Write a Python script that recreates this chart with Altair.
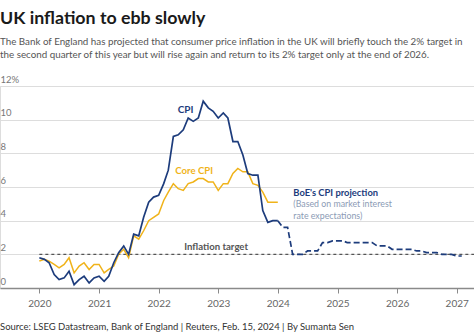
import altair as alt
import pandas as pd

# ---- data (annual % change) ----
cpi = [1.8, 1.7, 1.5, 0.8, 0.5, 0.6, 1.0, 0.2, 0.5, 0.7, 0.3, 0.6,
       0.7, 0.4, 0.7, 1.5, 2.1, 2.5, 2.0, 3.2, 3.1, 4.2, 5.1, 5.4,
       5.5, 6.2, 7.0, 9.0, 9.1, 9.4, 10.1, 9.9, 10.1, 11.1, 10.7, 10.5,
       10.1, 10.4, 10.1, 8.7, 8.7, 7.9, 6.8, 6.7, 6.7, 4.6, 3.9, 4.0,
       4.0]
core = [1.6, 1.7, 1.6, 1.4, 1.2, 1.4, 1.8, 0.9, 1.3, 1.5, 1.1, 1.4,
        1.4, 0.9, 1.1, 1.3, 2.0, 2.3, 1.8, 3.1, 2.9, 3.4, 4.0, 4.2,
        4.4, 5.2, 5.7, 6.2, 5.9, 5.8, 6.2, 6.3, 6.5, 6.5, 6.3, 6.3,
        5.8, 6.2, 6.2, 6.8, 7.1, 6.9, 6.9, 6.2, 6.1, 5.7, 5.1, 5.1,
        5.1]
projection = [4.0, 3.6, 3.6, 2.0, 2.0, 2.0, 2.2, 2.2, 2.2, 2.7, 2.7, 2.8,
              2.8, 2.8, 2.7, 2.7, 2.7, 2.7, 2.7, 2.7, 2.5, 2.5, 2.5, 2.3,
              2.3, 2.3, 2.3, 2.3, 2.2, 2.2, 2.1, 2.1, 2.1, 2.0, 2.0, 2.0,
              1.9, 1.9]
actual_start = "2020-01-01"
projection_start = "2024-01-01"
target_value = 2
target_dates = ["2020-01-01", "2027-04-17"]
years = list(range(2020, 2028))
y_ticks = [0, 2, 4, 6, 8, 10, 12]

title = "UK inflation to ebb slowly"
subtitle = [
    "The Bank of England has projected that consumer price inflation in the UK will briefly touch the 2% target in",
    "the second quarter of this year but will rise again and return to its 2% target only at the end of 2026.",
]
source = "Source: LSEG Datastream, Bank of England | Reuters, Feb. 15, 2024 | By Sumanta Sen"

NAVY = "#1d3c7c"
GOLD = "#f0b31a"
FONT = "Lato"

act_dates = pd.date_range(actual_start, periods=len(cpi), freq="MS")
proj_dates = pd.date_range(projection_start, periods=len(projection), freq="MS")

df_cpi = pd.DataFrame({"date": act_dates, "value": cpi})
df_core = pd.DataFrame({"date": act_dates, "value": core})
df_proj = pd.DataFrame({"date": proj_dates, "value": projection})
df_target = pd.DataFrame({"date": pd.to_datetime(target_dates), "value": [target_value] * 2})

x_scale = alt.Scale(domain=[alt.DateTime(year=2019, month=5, date=5),
                            alt.DateTime(year=2027, month=4, date=17)], nice=False)
y_scale = alt.Scale(domain=[0, 12], nice=False)

x_enc = alt.X("date:T", scale=x_scale, title=None,
              axis=alt.Axis(values=[alt.DateTime(year=y, month=1, date=1) for y in years],
                            format="%Y", grid=False, domainColor="#8a8a8a", domainWidth=1.3,
                            tickColor="#8a8a8a", tickSize=5, labelPadding=5,
                            labelColor="#666666", labelFontSize=10, labelFont=FONT))
y_enc = alt.Y("value:Q", scale=y_scale, title=None,
              axis=alt.Axis(values=y_ticks, tickCount=7, orient="left", domain=False, ticks=False,
                            labelAlign="left", labelBaseline="alphabetic", labelPadding=0,
                            labelOffset=-4, labelColor="#777777", labelFontSize=9.5, labelFont=FONT,
                            labelOverlap=False, labelBound=False, labelFlush=False,
                            gridColor="#dddddd", gridWidth=1,
                            labelExpr="datum.value == 12 ? '12%' : datum.label"))

base_grid = alt.Chart(df_cpi).mark_line(opacity=0).encode(x=x_enc, y=y_enc)

target = alt.Chart(df_target).mark_line(color="#555555", strokeDash=[3, 3], strokeWidth=1.2).encode(
    x=x_enc, y=y_enc)
core_line = alt.Chart(df_core).mark_line(color=GOLD, strokeWidth=1.5).encode(x=x_enc, y=y_enc)
cpi_line = alt.Chart(df_cpi).mark_line(color=NAVY, strokeWidth=1.7).encode(x=x_enc, y=y_enc)
proj_line = alt.Chart(df_proj).mark_line(color=NAVY, strokeWidth=1.7, strokeDash=[6, 3]).encode(
    x=x_enc, y=y_enc)

# annotations in data coordinates
ann = pd.DataFrame({
    "date": pd.to_datetime(["2022-06-15", "2022-08-07", "2024-04-05", "2024-04-05", "2024-04-05", "2022-12-19"]),
    "value": [10.58, 6.98, 5.64, 4.97, 4.30, 2.42],
    "label": ["CPI", "Core CPI", "BoE's CPI projection", "(Based on market interest",
              "rate expectations)", "Inflation target"],
    "kind": ["cpi", "core", "boe", "note", "note", "target"],
})


def ann_layer(kind, color, align, size, bold=True):
    return alt.Chart(ann[ann["kind"] == kind]).mark_text(
        color=color, align=align, baseline="middle", font=FONT,
        fontWeight="bold" if bold else "normal", fontSize=size).encode(
        x=x_enc, y=y_enc, text="label:N")


annotations = [
    ann_layer("cpi", NAVY, "center", 10),
    ann_layer("core", GOLD, "center", 9.6),
    ann_layer("boe", NAVY, "left", 9.4),
    ann_layer("note", "#8c9bb5", "left", 8.8, bold=False),
    ann_layer("target", "#555555", "center", 9.6),
]

# title block and footer (pixel positions relative to plot area)
tdf = pd.DataFrame({"t": [title]})
title_mark = alt.Chart(tdf).mark_text(align="left", baseline="alphabetic", font=FONT, fontWeight="bold",
                                      fontSize=17.8, color="#1a1a1a").encode(
    x=alt.value(0), y=alt.value(-62.5), text="t:N")
sub_marks = []
for i, line in enumerate(subtitle):
    sdf = pd.DataFrame({"t": [line]})
    sub_marks.append(alt.Chart(sdf).mark_text(align="left", baseline="alphabetic", font=FONT,
                                              fontSize=9.8, color="#555555").encode(
        x=alt.value(0), y=alt.value(-41.5 + i * 13.5), text="t:N"))
fdf = pd.DataFrame({"t": [source]})
footer = alt.Chart(fdf).mark_text(align="left", baseline="alphabetic", font=FONT, fontSize=9.5,
                                  color="#333333").encode(
    x=alt.value(0), y=alt.value(244), text="t:N")

chart = alt.layer(base_grid, target, core_line, cpi_line, proj_line, *annotations,
                  title_mark, *sub_marks, footer).properties(
    width=474, height=202,
    padding={"left": 0, "top": 86, "right": 0, "bottom": 45},
    autosize=alt.AutoSizeParams(type="none"),
).configure_view(stroke=None).configure(background="white").configure_axisY(labelOverlap=False)

chart.save("out.html", embed_options={"renderer": "svg", "actions": False})
